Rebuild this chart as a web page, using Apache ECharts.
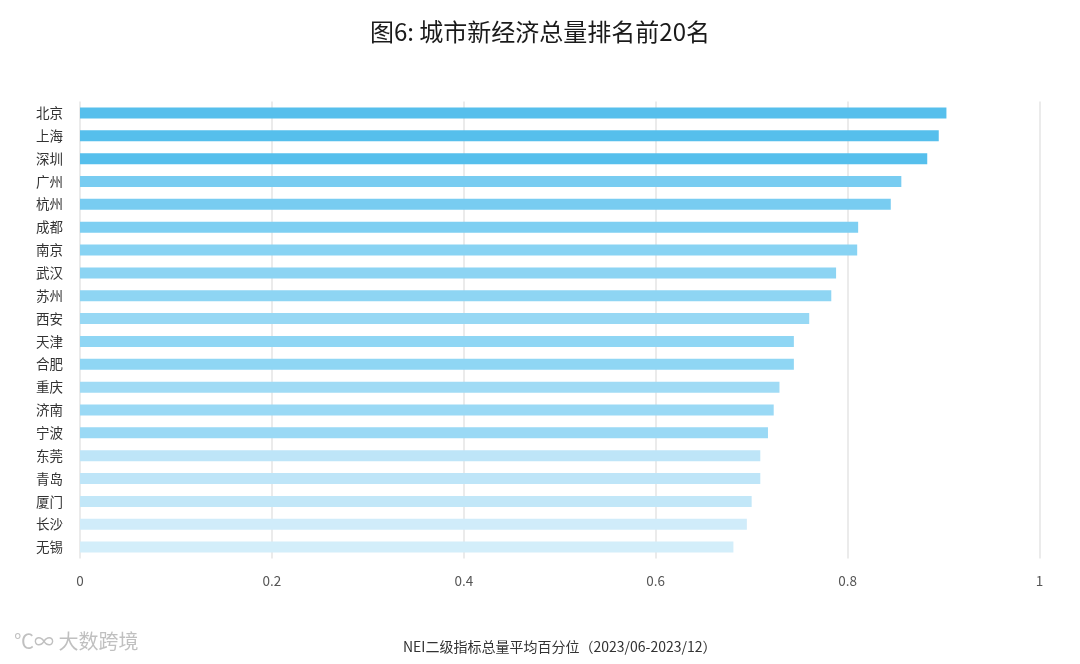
<!DOCTYPE html>
<html><head><meta charset="utf-8">
<script src="https://cdn.jsdelivr.net/npm/echarts@6/dist/echarts.min.js"></script>
<style>html,body{margin:0;padding:0;background:#fff}#c{width:1080px;height:664px}</style>
</head><body><div id="c"></div>
<script>
var cities = ['北京','上海','深圳','广州','杭州','成都','南京','武汉','苏州','西安','天津','合肥','重庆','济南','宁波','东莞','青岛','厦门','长沙','无锡'];
var values = [0.903,0.895,0.883,0.856,0.845,0.811,0.810,0.788,0.783,0.760,0.744,0.744,0.729,0.723,0.717,0.709,0.709,0.700,0.695,0.681];
var barColors = ['#56BFEC','#56BFEC','#56BFEC','#78CCF1','#78CCF1','#7ECFF2','#88D3F3','#8CD4F3','#8ED5F3','#97D8F4','#8FD6F4','#8FD6F4','#A0DBF5','#9AD9F5','#9AD9F5','#BEE5F8','#BEE5F8','#C2E7F8','#D0ECFA','#D3EEFA'];
var xTicks = [0,0.2,0.4,0.6,0.8,1];
var title = '图6: 城市新经济总量排名前20名';
var xName = 'NEI二级指标总量平均百分位（2023/06-2023/12）';

var chart = echarts.init(document.getElementById('c'));
var font = '"Noto Sans CJK SC","Noto Sans",sans-serif';
chart.setOption({
  animation:false,
  title:{text:title,left:'center',top:15,textStyle:{fontFamily:font,fontSize:24,fontWeight:'normal',color:'#1a1a1a'}},
  grid:{left:80,right:40.5,top:101.5,bottom:105.5,containLabel:false},
  xAxis:{type:'value',min:xTicks[0],max:xTicks[xTicks.length-1],interval:0.2,
    axisLine:{show:false},axisTick:{show:false},
    splitLine:{show:true,lineStyle:{color:'#e4e4e4',width:1.5}},
    axisLabel:{margin:16,fontFamily:font,fontSize:13.5,color:'#555',formatter:function(v){return String(Math.round(v*10)/10);}},
    name:xName,nameLocation:'middle',nameGap:81,nameTextStyle:{fontFamily:font,fontSize:14,color:'#333'}
  },
  yAxis:{type:'category',data:cities,inverse:true,
    axisLine:{show:false},axisTick:{show:false},
    axisLabel:{margin:17,fontFamily:font,fontSize:13.5,color:'#333'}},
  series:[{type:'bar',barWidth:11,
    data:values.map(function(v,i){return {value:v,itemStyle:{color:barColors[i]}};})}],
  graphic:[{type:'text',left:14,top:631,style:{text:'℃∞ 大数跨境',fontFamily:font,fontSize:20,fill:'rgba(150,150,150,0.6)'}}]
});
</script></body></html>
